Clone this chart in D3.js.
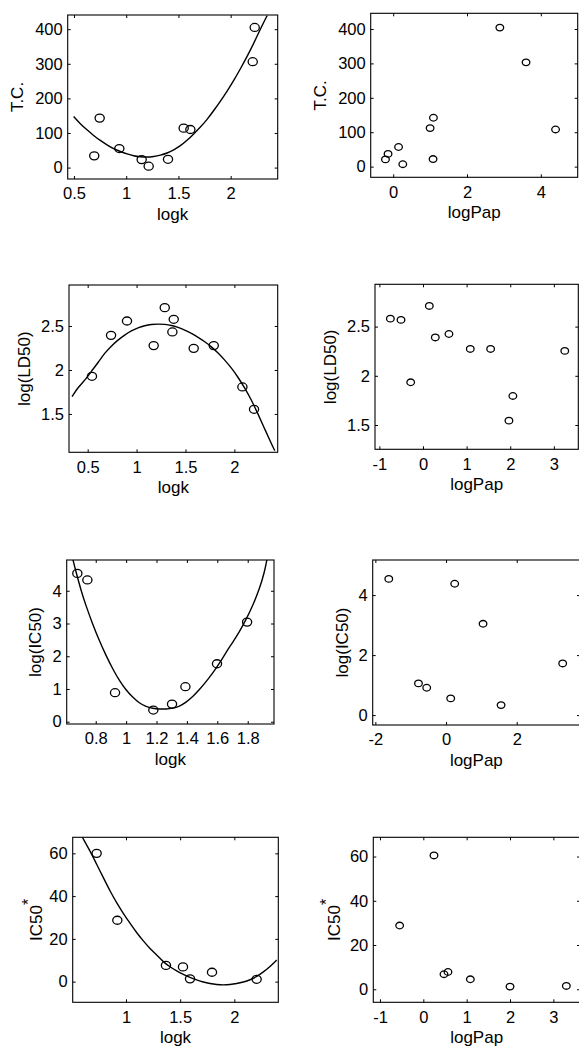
<!DOCTYPE html>
<html>
  <head>
    <title>logk / logPap panels</title>
    <script src="https://cdn.jsdelivr.net/npm/d3@7"></script>
    <style>
      body { margin: 0; background: #fff; }
      text { font-family: "Liberation Sans", Arial, sans-serif; fill: #000; }
    </style>
  </head>
  <body>
    <svg width="579" height="1051" id="mainsvg"></svg>
    <script>

    // row 1: T.C.
    const tcLogk = [0.694, 0.746, 0.934, 1.148, 1.215, 1.40, 1.55, 1.614, 2.211, 2.23];
    const tcVals = [34, 143, 55, 23, 4, 24, 114, 110, 306, 405];
    const tcFitLogk = [0.497, 0.561, 0.625, 0.688, 0.752, 0.816, 0.880, 0.944, 1.008, 1.072, 1.135, 1.199, 1.263, 1.327, 1.391, 1.455,
                       1.518, 1.582, 1.646, 1.710, 1.774, 1.838, 1.902, 1.966, 2.029, 2.093, 2.157, 2.221, 2.285, 2.349];
    const tcFitVals = [147.5, 126.3, 109, 92.6, 78.1, 65.6, 54, 46.3, 39.6, 33.8, 30.9, 30, 31.9, 35.7, 41.5, 51.2,
                       62.7, 78.1, 97.4, 116.7, 138.8, 164.8, 191.8, 220.7, 251.5, 285.3, 320.9, 359.2, 401, 439.3];
    const tcPap = [-0.21, -0.14, 0.145, 0.26, 1.0, 1.09, 1.08, 2.89, 3.60, 4.40];
    const tcPapVals = [21, 37, 57, 7, 112, 142, 22, 404, 303, 108];

    // row 2: log(LD50)
    const ldLogk = [0.544, 0.739, 0.902, 1.175, 1.288, 1.380, 1.366, 1.584, 1.789, 2.082, 2.201];
    const ldVals = [1.928, 2.394, 2.557, 2.277, 2.708, 2.576, 2.432, 2.246, 2.277, 1.807, 1.553];
    const ldFitLogk = [0.34, 0.401, 0.469, 0.538, 0.606, 0.674, 0.742, 0.81, 0.878, 0.947, 1.015, 1.083, 1.151, 1.219, 1.288, 1.356,
                       1.424, 1.492, 1.56, 1.629, 1.697, 1.765, 1.833, 1.901, 1.97, 2.038, 2.106, 2.174, 2.242, 2.31, 2.379, 2.413];
    const ldFitVals = [1.697, 1.803, 1.879, 1.985, 2.083, 2.193, 2.273, 2.341, 2.398, 2.447, 2.481, 2.504, 2.519, 2.523, 2.519, 2.508,
                       2.485, 2.455, 2.417, 2.371, 2.322, 2.265, 2.193, 2.114, 2.023, 1.917, 1.795, 1.659, 1.5, 1.33, 1.159, 1.083];
    const ldPap = [-0.748, -0.504, -0.282, 0.145, 0.282, 0.595, 1.084, 1.55, 2.06, 1.97, 3.25];
    const ldPapVals = [2.581, 2.568, 1.934, 2.71, 2.39, 2.425, 2.273, 2.273, 1.795, 1.544, 2.253];

    // row 3: log(IC50)
    const icLogk = [0.679, 0.745, 0.927, 1.179, 1.302, 1.39, 1.598, 1.796];
    const icVals = [4.53, 4.33, 0.886, 0.356, 0.539, 1.069, 1.771, 3.043];
    const icFitLogk = [0.649, 0.671, 0.704, 0.736, 0.780, 0.824, 0.868, 0.912, 0.956, 1.0, 1.043, 1.087, 1.131, 1.175, 1.219, 1.263, 1.307,
                       1.35, 1.394, 1.438, 1.482, 1.526, 1.57, 1.614, 1.657, 1.701, 1.745, 1.789, 1.833, 1.877, 1.91, 1.927];
    const icFitVals = [4.967, 4.56, 4.0, 3.54, 2.98, 2.47, 2.02, 1.61, 1.25, 0.967, 0.743, 0.57, 0.458, 0.407, 0.387, 0.387, 0.407,
                       0.468, 0.59, 0.763, 0.977, 1.221, 1.486, 1.781, 2.117, 2.422, 2.748, 3.114, 3.542, 4.051, 4.56, 4.967];
    const icPap = [-1.62, -0.78, -0.547, 0.245, 0.132, 1.047, 1.557, 3.30];
    const icPapVals = [4.54, 1.056, 0.911, 4.378, 0.556, 3.044, 0.333, 1.722];

    // row 4: IC50*
    const ic2Logk = [0.729, 0.92, 1.369, 1.526, 1.591, 1.794, 2.206];
    const ic2Vals = [60, 28.7, 7.6, 6.9, 1.3, 4.4, 1.1];
    const ic2FitLogk = [0.591, 0.668, 0.729, 0.791, 0.852, 0.914, 0.975, 1.037, 1.098, 1.16, 1.222, 1.283, 1.345, 1.406, 1.468, 1.529,
                        1.591, 1.652, 1.714, 1.775, 1.837, 1.898, 1.96, 2.022, 2.083, 2.145, 2.206, 2.268, 2.329, 2.391];
    const ic2FitVals = [68.1, 61.1, 54.9, 48.6, 42.4, 36.9, 31.9, 27.3, 22.9, 19, 15.4, 12.5, 9.2, 6.9, 5.0, 3.4,
                        1.9, 0.8, -0.2, -0.9, -1.4, -1.6, -1.4, -0.9, -0.2, 0.8, 2.3, 4.5, 7.0, 10.1];
    const ic2Pap = [-0.546, 0.246, 0.477, 0.569, 1.085, 2.0, 3.3];
    const ic2PapVals = [28.8, 60.5, 6.8, 7.8, 4.5, 1.2, 1.5];

    // axis ticks
    const logkTicks1 = [0.5, 1, 1.5, 2];
    const logkTicks3 = [0.8, 1, 1.2, 1.4, 1.6, 1.8];
    const logkTicks4 = [1, 1.5, 2];
    const papTicks2 = [0, 2, 4];
    const papTicks4 = [-1, 0, 1, 2, 3];
    const papTicks6 = [-2, 0, 2];
    const tcTicks = [0, 100, 200, 300, 400];
    const ldTicks = [1.5, 2, 2.5];
    const icTicks = [0, 1, 2, 3, 4];
    const icPapTicks = [0, 2, 4];
    const ic2Ticks = [0, 20, 40, 60];

    const panels = [
      {box: [67.7, 277.7, 15, 179], xd: [0.44, 2.45], yd: [-33, 441], xt: logkTicks1, yt: tcTicks,
       x: tcLogk, y: tcVals, fx: tcFitLogk, fy: tcFitVals, xl: 'logk', yl: 'T.C.', ylx: 45, r: [4.6, 4]},
      {box: [370.7, 577.7, 13.3, 177.3], xd: [-0.61, 5.0], yd: [-31, 445.6], xt: papTicks2, yt: tcTicks,
       x: tcPap, y: tcPapVals, xl: 'logPap', yl: 'T.C.', ylx: 45, r: [3.8, 3.3]},
      {box: [69, 277.7, 285, 452.3], xd: [0.309, 2.443], yd: [1.064, 2.966], xt: logkTicks1, yt: ldTicks,
       x: ldLogk, y: ldVals, fx: ldFitLogk, fy: ldFitVals, xl: 'logk', yl: 'log(LD50)', ylx: 39, r: [4.6, 4]},
      {box: [375, 578.3, 284.3, 449.3], xd: [-1.1, 3.56], yd: [1.253, 2.93], xt: papTicks4, yt: ldTicks,
       x: ldPap, y: ldPapVals, xl: 'logPap', yl: 'log(LD50)', ylx: 39, r: [3.8, 3.3]},
      {box: [66.7, 274, 560, 724], xd: [0.609, 1.973], yd: [-0.07, 4.94], xt: logkTicks3, yt: icTicks,
       x: icLogk, y: icVals, fx: icFitLogk, fy: icFitVals, xl: 'logk', yl: 'log(IC50)', ylx: 26, r: [4.6, 4]},
      {box: [372.7, 580, 560, 725], xd: [-2.075, 3.79], yd: [-0.33, 5.17], xt: papTicks6, yt: icPapTicks,
       x: icPap, y: icPapVals, xl: 'logPap', yl: 'log(IC50)', ylx: 25, r: [3.8, 3.3]},
      {box: [72.7, 278.3, 837.3, 1002.3], xd: [0.508, 2.406], yd: [-9.66, 67.5], xt: logkTicks4, yt: ic2Ticks,
       x: ic2Logk, y: ic2Vals, fx: ic2FitLogk, fy: ic2FitVals, xl: 'logk', yl: 'IC50', star: true, ylx: 31, r: [4.6, 4]},
      {box: [373.3, 580, 837.3, 1002.3], xd: [-1.154, 3.615], yd: [-5.9, 68.7], xt: papTicks4, yt: ic2Ticks,
       x: ic2Pap, y: ic2PapVals, xl: 'logPap', yl: 'IC50', star: true, ylx: 33, r: [3.8, 3.3]}
    ];

    const svg = d3.select('#mainsvg');
    const tick = 3;

    panels.forEach(function(p, i) {
      const [L, R, T, B] = p.box;
      const x = d3.scaleLinear().domain(p.xd).range([L, R]);
      const y = d3.scaleLinear().domain(p.yd).range([B, T]);
      const g = svg.append('g');

      g.append('clipPath').attr('id', 'clip' + i)
        .append('rect').attr('x', L).attr('y', T).attr('width', R - L).attr('height', B - T);

      // inward ticks on all four sides, labels only bottom and left
      const axes = [
        [d3.axisBottom(x), B, 0, true],
        [d3.axisTop(x).tickFormat(''), T, 0, false],
        [d3.axisLeft(y), 0, L, true],
        [d3.axisRight(y).tickFormat(''), 0, R, false]
      ];
      axes.forEach(function([ax, ty, tx, labels], k) {
        ax.tickValues(k < 2 ? p.xt : p.yt).tickSize(-tick).tickPadding(k < 2 ? 8.5 : 5);
        if (labels) ax.tickFormat(d => String(d));
        const a = g.append('g').attr('transform', `translate(${tx},${ty})`).call(ax);
        a.select('.domain').remove();
        a.selectAll('line').attr('stroke', '#000').attr('stroke-width', 1);
        a.selectAll('text').attr('font-size', 16.5).attr('font-family', '"Liberation Sans", Arial, sans-serif').attr('fill', '#000');
      });

      g.append('rect').attr('x', L).attr('y', T).attr('width', R - L).attr('height', B - T)
        .attr('fill', 'none').attr('stroke', '#000').attr('stroke-width', 1.1);

      if (p.fx) {
        const line = d3.line().x(d => x(d[0])).y(d => y(d[1])).curve(d3.curveBasis);
        g.append('path').datum(d3.zip(p.fx, p.fy))
          .attr('clip-path', `url(#clip${i})`)
          .attr('d', line).attr('fill', 'none').attr('stroke', '#000').attr('stroke-width', 1.4);
      }

      g.selectAll('ellipse').data(d3.zip(p.x, p.y)).enter().append('ellipse')
        .attr('cx', d => x(d[0])).attr('cy', d => y(d[1]))
        .attr('rx', p.r[0]).attr('ry', p.r[1])
        .attr('fill', 'none').attr('stroke', '#000').attr('stroke-width', 1.3);

      g.append('text').attr('x', (L + R) / 2).attr('y', B + 41)
        .attr('text-anchor', 'middle').attr('font-size', 17).text(p.xl);

      const cy = (T + B) / 2;
      const yl = g.append('text').attr('transform', `translate(${L - p.ylx},${cy}) rotate(-90)`)
        .attr('text-anchor', 'middle').attr('font-size', 17);
      yl.append('tspan').text(p.yl);
      if (p.star) yl.append('tspan').attr('dy', -8).attr('font-size', 16).text('*');
    });

  </script>
  </body>
</html>
